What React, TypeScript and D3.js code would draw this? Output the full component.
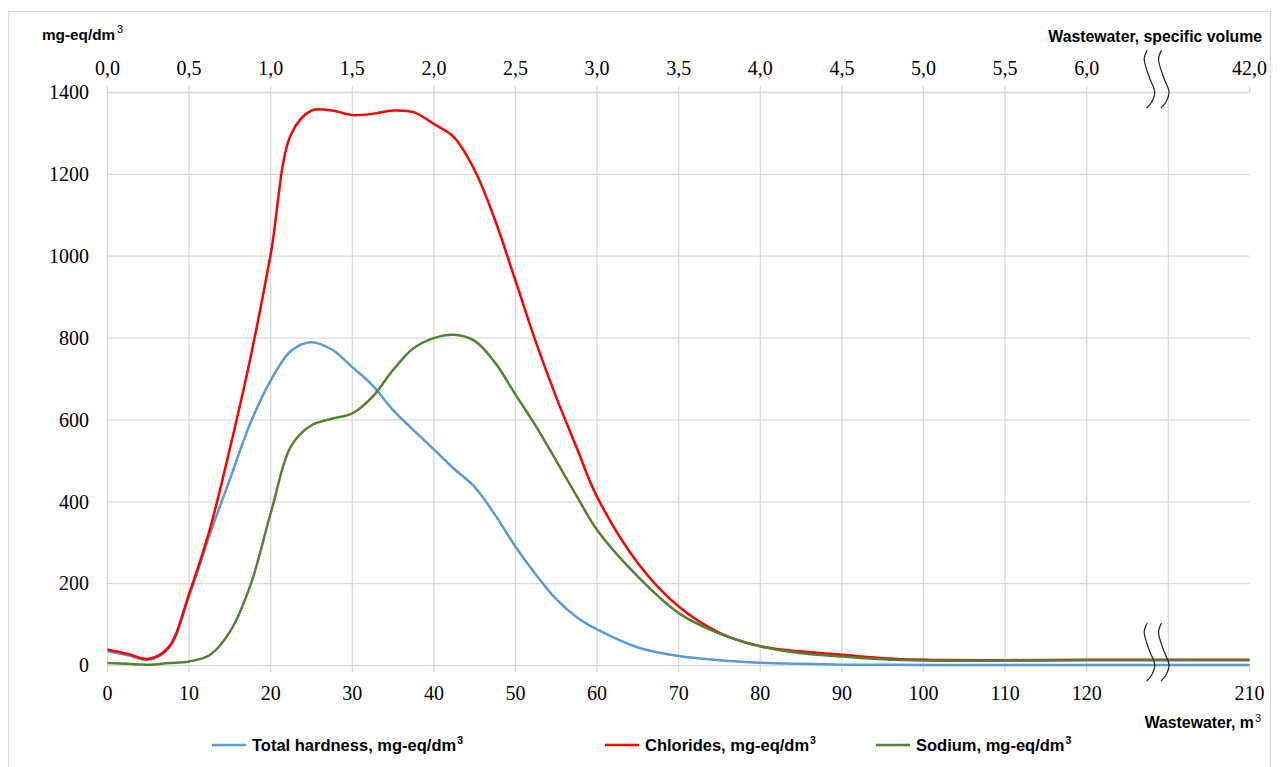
import React from "react";
import * as d3 from "d3";

// ---- data ----
const X_VALUES = [0, 2.5, 5, 7.5, 10, 12.5, 15, 17.5, 20, 22.5, 25, 27.5, 30, 32.5, 35, 37.5, 40, 42.5, 45, 47.5, 50, 52.5, 55, 57.5, 60, 65, 70, 75, 80, 85, 90, 95, 100, 110, 120, 130, 210];
const HARDNESS = [35, 25, 14, 42, 169, 318, 455, 592, 696, 769, 790, 772, 729, 684, 624, 575, 528, 480, 436, 368, 290, 222, 162, 118, 88, 44, 23, 13, 7, 4, 2, 2, 1, 1, 1, 1, 1];
const CHLORIDES = [39, 28, 16, 45, 175, 330, 530, 750, 1005, 1298, 1356, 1356, 1345, 1348, 1356, 1352, 1323, 1290, 1210, 1088, 940, 790, 655, 532, 412, 250, 144, 80, 47, 34, 26, 18, 14, 13, 14, 14, 14];
const SODIUM = [6, 4, 2, 6, 10, 25, 82, 195, 372, 536, 587, 603, 616, 657, 722, 775, 800, 808, 793, 740, 662, 585, 500, 414, 331, 217, 128, 78, 47, 30, 22, 15, 12, 12, 13, 13, 13];

const Y_TICKS = [0, 200, 400, 600, 800, 1000, 1200, 1400];
const GRID_X = [0, 10, 20, 30, 40, 50, 60, 70, 80, 90, 100, 110, 120, 130];
const BOTTOM_TICKS = [0, 10, 20, 30, 40, 50, 60, 70, 80, 90, 100, 110, 120, 210];
const BOTTOM_LABELS = ["0", "10", "20", "30", "40", "50", "60", "70", "80", "90", "100", "110", "120", "210"];
const TOP_LABELS = ["0,0", "0,5", "1,0", "1,5", "2,0", "2,5", "3,0", "3,5", "4,0", "4,5", "5,0", "5,5", "6,0", "42,0"];

const SERIES = [
  { name: "Total hardness, mg-eq/dm", values: HARDNESS, color: "#5B9BD5" },
  { name: "Chlorides, mg-eq/dm", values: CHLORIDES, color: "#FF0000" },
  { name: "Sodium, mg-eq/dm", values: SODIUM, color: "#548235" },
];
const LEGEND_X = [212, 605, 876];

const SERIF = "'Liberation Serif', 'Times New Roman', serif";
const SANS = "'Liberation Sans', Arial, sans-serif";
const GRID = "#d9d9d9";

export default function App() {
  const x = d3.scaleLinear().domain([0, 130, 210]).range([107.5, 1168.3, 1249.5]);
  const y = d3.scaleLinear().domain([0, 1400]).range([665.5, 92.5]);
  const top = y(1400);
  const bottom = y(0);

  const line = d3
    .line<number>()
    .x((_, i) => x(X_VALUES[i]))
    .y((d) => y(d))
    .curve(d3.curveCatmullRom.alpha(0.5));

  const breakPath = (bx: number, y0: number) => {
    const pts: [number, number][] = [
      [bx + 0.5, y0],
      [bx - 2.5, y0 + 9],
      [bx + 2.5, y0 + 27],
      [bx + 8, y0 + 42],
      [bx + 5, y0 + 52],
      [bx, y0 + 58],
    ];
    return d3.line().curve(d3.curveCatmullRom.alpha(0.5))(pts) || "";
  };

  return (
    <svg
      width={1280}
      height={767}
      style={{ position: "absolute", left: 0, top: 0, display: "block", background: "#fff" }}
    >
      <rect x={8.5} y={11.5} width={1262} height={760} fill="#fff" stroke={GRID} strokeWidth={1} />

      {/* horizontal grid */}
      {Y_TICKS.map((t) => (
        <line key={"h" + t} x1={x(0)} x2={x(210)} y1={y(t)} y2={y(t)} stroke={GRID} strokeWidth={1.3} />
      ))}
      {/* vertical grid */}
      {GRID_X.map((t) => (
        <line key={"v" + t} x1={x(t)} x2={x(t)} y1={top} y2={bottom} stroke={GRID} strokeWidth={1.3} />
      ))}
      {/* top ticks */}
      {BOTTOM_TICKS.map((t) => (
        <line key={"tt" + t} x1={x(t)} x2={x(t)} y1={top - 6.5} y2={top} stroke={GRID} strokeWidth={1.3} />
      ))}
      {/* bottom ticks */}
      {BOTTOM_TICKS.map((t) => (
        <line key={"bt" + t} x1={x(t)} x2={x(t)} y1={bottom} y2={bottom + 6.5} stroke={GRID} strokeWidth={1.3} />
      ))}

      {/* series */}
      {SERIES.map((s) => (
        <path key={s.name} d={line(s.values) || ""} fill="none" stroke={s.color} strokeWidth={2.5} strokeLinejoin="round" />
      ))}

      {/* break symbols */}
      {[1146.7, 1161].map((bx) => (
        <g key={"b" + bx}>
          <path d={breakPath(bx, 50)} fill="none" stroke="#222" strokeWidth={1.2} />
          <path d={breakPath(bx, 623)} fill="none" stroke="#222" strokeWidth={1.2} />
        </g>
      ))}

      {/* y labels */}
      {Y_TICKS.map((t) => (
        <text key={"yl" + t} x={89} y={y(t) + 6.8} textAnchor="end" fontFamily={SERIF} fontSize={20} fill="#000">
          {t}
        </text>
      ))}
      {/* top labels */}
      {BOTTOM_TICKS.map((t, i) => (
        <text key={"tl" + t} x={x(t)} y={75} textAnchor="middle" fontFamily={SERIF} fontSize={20} fill="#000">
          {TOP_LABELS[i]}
        </text>
      ))}
      {/* bottom labels */}
      {BOTTOM_TICKS.map((t, i) => (
        <text key={"bl" + t} x={x(t)} y={699.5} textAnchor="middle" fontFamily={SERIF} fontSize={20} fill="#000">
          {BOTTOM_LABELS[i]}
        </text>
      ))}

      {/* axis titles */}
      <text x={42} y={39.5} fontFamily={SANS} fontSize={15.3} fontWeight="bold" fill="#000">
        mg-eq/dm
        <tspan fontSize={11} fontWeight="normal" dy={-6.5} dx={2}>3</tspan>
      </text>
      <text x={1262} y={41.7} textAnchor="end" fontFamily={SANS} fontSize={15.8} fontWeight="bold" fill="#000">
        Wastewater, specific volume
      </text>
      <text x={1261} y={728} textAnchor="end" fontFamily={SANS} fontSize={15.8} fontWeight="bold" fill="#000">
        Wastewater, m
        <tspan fontSize={11} fontWeight="normal" dy={-6.5} dx={1}>3</tspan>
      </text>

      {/* legend */}
      {SERIES.map((s, i) => (
        <g key={"lg" + s.name}>
          <line x1={LEGEND_X[i]} x2={LEGEND_X[i] + 34} y1={745} y2={745} stroke={s.color} strokeWidth={2.5} />
          <text x={LEGEND_X[i] + 40} y={751} fontFamily={SANS} fontSize={16.5} fontWeight="bold" fill="#000">
            {s.name}
            <tspan fontSize={10.5} dy={-7} dx={1}>3</tspan>
          </text>
        </g>
      ))}
    </svg>
  );
}
